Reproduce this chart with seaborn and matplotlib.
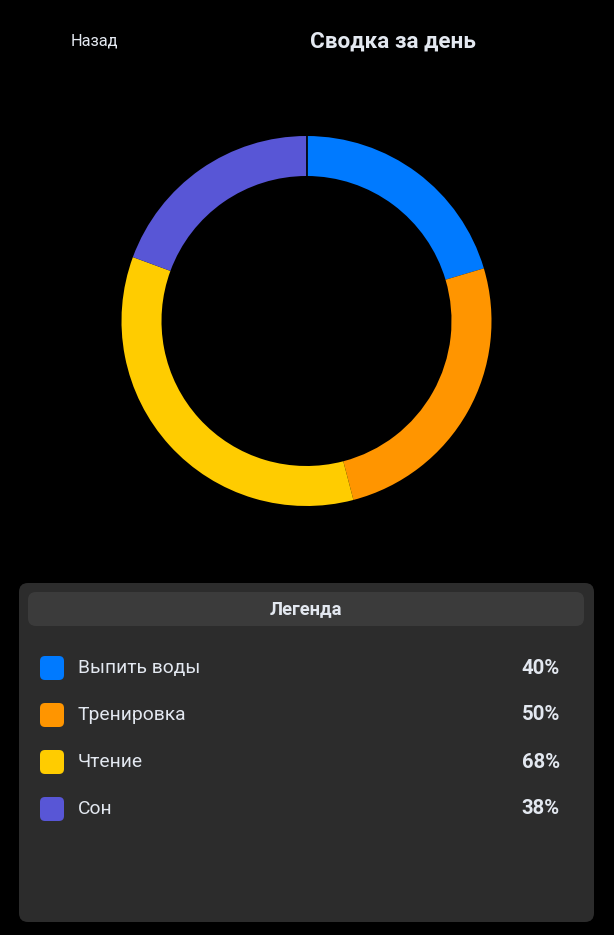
import matplotlib
matplotlib.use("Agg")
import matplotlib.pyplot as plt
import seaborn as sns
from matplotlib.patches import FancyBboxPatch

# ---------------------------------------------------------------
# Данные
# ---------------------------------------------------------------
tasks = ["Выпить воды", "Тренировка", "Чтение", "Сон"]
percents = [40, 50, 68, 38]
colors = ["#007AFF", "#FF9500", "#FFCC00", "#5856D6"]

W, H = 614, 935
text_col = "#E3E8F0"

sns.set_theme(style="dark")
plt.rcParams["font.family"] = ["Roboto", "DejaVu Sans"]

fig = plt.figure(figsize=(W / 100, H / 100), dpi=100, facecolor="black")

# фон в пикселях
bg = fig.add_axes([0, 0, 1, 1])
bg.set_xlim(0, W)
bg.set_ylim(H, 0)
bg.set_facecolor("black")
bg.axis("off")

# заголовок
bg.text(71, 41, "Назад", color=text_col, fontsize=11.8, ha="left", va="center")
bg.text(393, 42, "Сводка за день", color=text_col, fontsize=16.2,
        fontweight="bold", ha="center", va="center")

# ---------------------------------------------------------------
# Кольцевая диаграмма
# ---------------------------------------------------------------
cx, cy, r_out, r_in = 306.5, 321, 185, 145
ax = fig.add_axes([(cx - r_out) / W, (H - cy - r_out) / H, 2 * r_out / W, 2 * r_out / H])
ax.pie(percents, colors=colors, startangle=90, counterclock=False,
       radius=1, wedgeprops=dict(width=(r_out - r_in) / r_out, edgecolor="none"))
ax.plot([0, 0], [r_in / r_out, 1], color="black", lw=1.2)
ax.set_xlim(-1, 1)
ax.set_ylim(-1, 1)
ax.set_aspect("equal")
ax.axis("off")

# ---------------------------------------------------------------
# Легенда
# ---------------------------------------------------------------
panel = FancyBboxPatch((19, 583), 575, 339, boxstyle="round,pad=0,rounding_size=9",
                       facecolor="#2C2C2C", edgecolor="none")
bg.add_patch(panel)
header = FancyBboxPatch((28, 592), 556, 34, boxstyle="round,pad=0,rounding_size=8",
                        facecolor="#3B3B3B", edgecolor="none")
bg.add_patch(header)
bg.text(306, 609, "Легенда", color=text_col, fontsize=13.2, fontweight="bold",
        ha="center", va="center")

for i, (name, val, col) in enumerate(zip(tasks, percents, colors)):
    y = 668 + i * 47
    sq = FancyBboxPatch((40, y - 12), 24, 24, boxstyle="round,pad=0,rounding_size=5",
                        facecolor=col, edgecolor="none")
    bg.add_patch(sq)
    bg.text(78, y, name, color=text_col, fontsize=13.9, ha="left", va="center")
    bg.text(560, y, f"{val}%", color=text_col, fontsize=14.6, fontweight="bold",
            ha="right", va="center")

fig.savefig("out.png", dpi=100, facecolor="black")
